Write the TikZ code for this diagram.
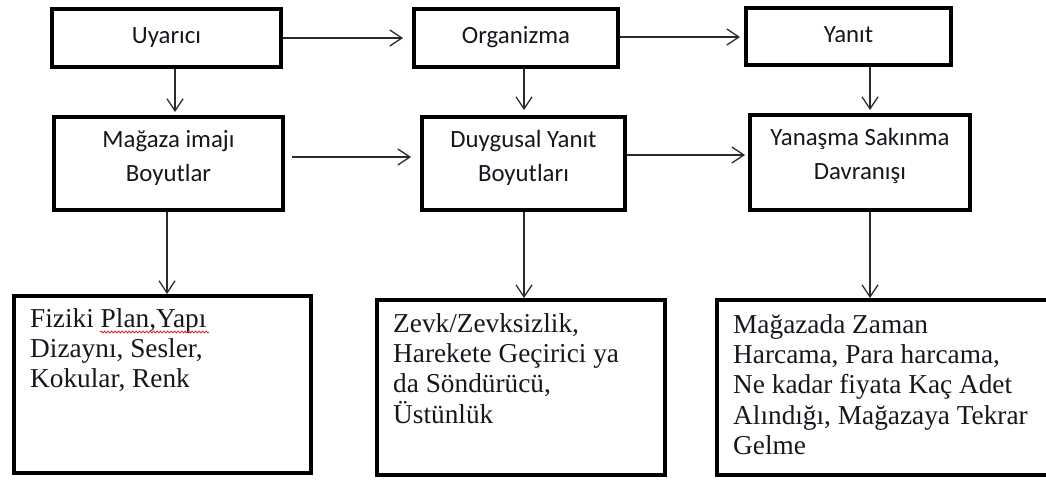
\documentclass[tikz,border=0pt]{standalone}
\usepackage{fontspec}
\setmainfont{Liberation Serif}
\newfontfamily\boxfont{Carlito}
\usepackage{tikz}
\usetikzlibrary{arrows.meta,positioning,decorations.pathmorphing}
\definecolor{ModelInk}{HTML}{16161E}
\definecolor{ModelArrow}{HTML}{2B2B2B}
\definecolor{ModelSpell}{HTML}{D42A2A}

\begin{document}
\begin{tikzpicture}[
    x=1pt,y=-1pt,
    box/.style={draw=black,line width=4pt,inner sep=0pt},
    headbox/.style={box,text height=17pt,text depth=5pt,text=ModelInk,
      font=\boxfont\fontsize{24.8}{34}\selectfont},
    headtext/.style={inner sep=0pt,align=center,text=ModelInk,
      font=\boxfont\fontsize{24.8}{34}\selectfont},
    bodytext/.style={inner sep=0pt,align=left,text=ModelInk,
      font=\fontsize{27.3}{30.3}\selectfont},
    arrow/.style={-{Straight Barb[length=12pt,width=16pt]},line width=1.3pt,draw=ModelArrow}
  ]
    \useasboundingbox (0,0) rectangle (1046,481);
    % model row
    \node[headbox,minimum width=229pt,minimum height=58pt] (uyarici) at (166.5,38) {Uyarıcı};
    \node[headbox,minimum width=204pt,minimum height=58pt] (organizma) at (516,38) {Organizma};
    \node[headbox,minimum width=205pt,minimum height=57pt] (yanit) at (848.5,36.5) {Yanıt};
    % dimension row
    \node[box,minimum width=229pt,minimum height=93pt] (magaza) at (168.5,163.5) {};
    \node[box,minimum width=203pt,minimum height=93pt] (duygusal) at (523.5,163.5) {};
    \node[box,minimum width=220pt,minimum height=95pt] (yanasma) at (860,162.5) {};
    \node[headtext,below=15pt of magaza.north] (magazatext) {Mağaza imajı\\Boyutlar};
    \node[headtext,below=15pt of duygusal.north] (duygusaltext) {Duygusal Yanıt\\Boyutları};
    \node[headtext,below=15pt of yanasma.north] (yanasmatext) {Yanaşma Sakınma\\Davranışı};
    % detail row
    \node[box,minimum width=297pt,minimum height=177pt] (fiziki) at (162.5,384.5) {};
    \node[box,minimum width=288pt,minimum height=175pt] (zevk) at (521,387.5) {};
    \node[box,minimum width=345pt,minimum height=175pt] (harcama) at (889.5,387.5) {};
    \node[bodytext,below right=14pt and 18pt of fiziki.north west] (fizikitext)
      {Fiziki Plan,Yapı\\Dizaynı, Sesler,\\Kokular, Renk};
    \node[bodytext,below right=15pt and 18pt of zevk.north west] (zevktext)
      {Zevk/Zevksizlik,\\Harekete Geçirici ya\\da Söndürücü,\\Üstünlük};
    \node[bodytext,below right=16pt and 18pt of harcama.north west] (harcamatext)
      {Mağazada Zaman\\Harcama, Para harcama,\\Ne kadar fiyata Kaç Adet\\Alındığı, Mağazaya Tekrar\\Gelme};
    \draw[ModelSpell,line width=0.8pt,decorate,
      decoration={snake,amplitude=1pt,segment length=3.5pt}] (100,332) -- (209,332);
    % horizontal arrows
    \draw[arrow,shorten >=9pt] (uyarici.east) -- (uyarici.east -| organizma.west);
    \draw[arrow,shorten >=4pt] ([yshift=1pt]organizma.east) -- ([yshift=1pt]organizma.east -| yanit.west);
    \draw[arrow,shorten <=7pt,shorten >=9pt] ([yshift=6.5pt]magaza.east) -- ([yshift=6.5pt]magaza.east -| duygusal.west);
    \draw[arrow,shorten >=3pt] ([yshift=8.5pt]duygusal.east) -- ([yshift=8.5pt]duygusal.east -| yanasma.west);
    % vertical arrows
    \draw[arrow,shorten >=3pt] ([xshift=8.5pt]uyarici.south) -- ([xshift=8.5pt]uyarici.south |- magaza.north);
    \draw[arrow,shorten >=5pt] ([xshift=8pt]organizma.south) -- ([xshift=8pt]organizma.south |- duygusal.north);
    \draw[arrow,shorten >=3pt] ([xshift=21.5pt]yanit.south) -- ([xshift=21.5pt]yanit.south |- yanasma.north);
    \draw[arrow] ([xshift=-1.5pt]magaza.south) -- ([xshift=-1.5pt]magaza.south |- fiziki.north);
    \draw[arrow] ([xshift=0.5pt]duygusal.south) -- ([xshift=0.5pt]duygusal.south |- zevk.north);
    \draw[arrow] ([xshift=10pt]yanasma.south) -- ([xshift=10pt]yanasma.south |- harcama.north);
  \end{tikzpicture}
\end{document}
